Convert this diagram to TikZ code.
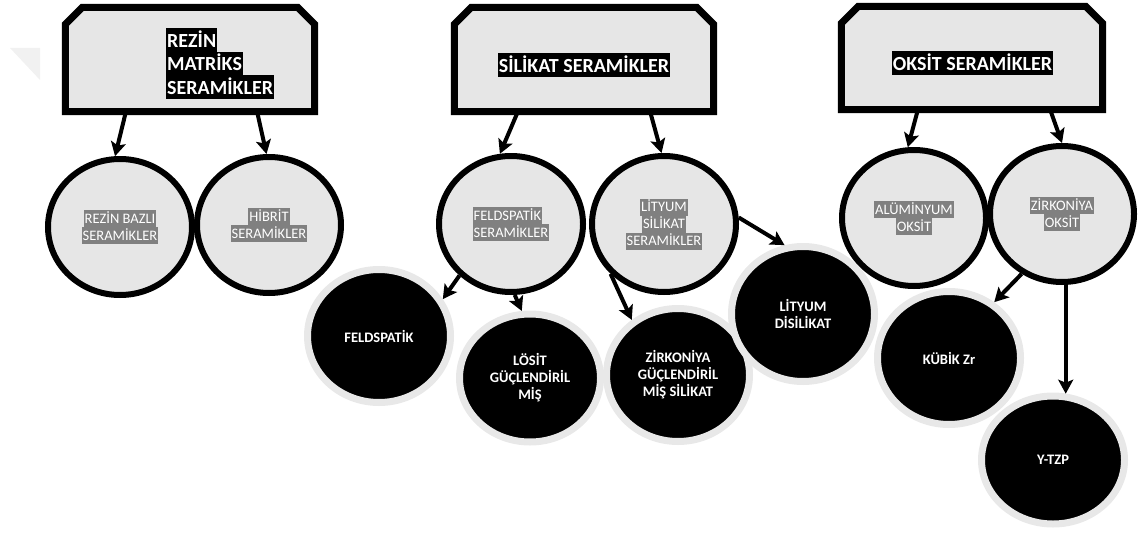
\documentclass[tikz,border=0pt]{standalone}
\usepackage{fontspec}
\setmainfont{Carlito}
\usetikzlibrary{shapes.geometric,arrows.meta,calc}
\definecolor{lightfill}{RGB}{230,230,230}
\definecolor{halo}{RGB}{232,232,232}
\definecolor{hlgray}{RGB}{128,128,128}
\definecolor{ghost}{RGB}{241,241,241}
\newcommand\hk[1]{{\fboxsep=0pt\colorbox{black}{\rule[-4.5pt]{0pt}{23.5pt}\kern1pt#1\kern1pt}}}
\newcommand\hg[1]{{\fboxsep=0pt\colorbox{hlgray}{\rule[-4pt]{0pt}{17pt}\kern1pt#1\kern1pt}}}
\newcommand\stackL[1]{\vbox{\offinterlineskip\halign{##\hfil\cr#1\crcr}}}
\newcommand\stackC[1]{\vbox{\offinterlineskip\halign{\hfil##\hfil\cr#1\crcr}}}
\tikzset{
  hdrbox/.style={rectangle, draw=none, inner sep=0pt},
  hdrline/.style={draw=black, fill=lightfill, line width=7pt, line join=miter},
  hdrtext/.style={inner sep=0pt, text=white, font=\bfseries\fontsize{20}{23.5}\selectfont},
  lightc/.style={ellipse, draw=black, line width=6pt, fill=lightfill, minimum width=144pt, minimum height=136pt, inner sep=0pt, text=white, font=\fontsize{14.5}{17}\selectfont},
  darkc/.style={ellipse, draw=halo, line width=7pt, fill=black, minimum width=143pt, minimum height=133pt, inner sep=0pt, text=white, align=center, font=\bfseries\fontsize{14.5}{17}\selectfont},
  arr/.style={line width=4pt, draw=black, -{Stealth[length=14pt,width=15pt,inset=3pt]}}
}
\begin{document}
\begin{tikzpicture}[x=1pt,y=-1pt]
\useasboundingbox (0,0) rectangle (1142,535);
% faint mark at top left
\fill[ghost] (10,48) -- (40,48) -- (40,80) -- cycle;

% header frames
\node[hdrbox, minimum width=249pt, minimum height=104pt] (h1) at (190,59.5) {};
\node[hdrbox, minimum width=259pt, minimum height=104pt] (h2) at (584,59.5) {};
\node[hdrbox, minimum width=261pt, minimum height=103pt] (h3) at (972,58) {};
\foreach \h in {h1,h2,h3}{
  \draw[hdrline] (\h.south west) -- ($(\h.north west)+(0,17)$) -- ($(\h.north west)+(17,0)$)
    -- ($(\h.north east)+(-17,0)$) -- ($(\h.north east)+(0,17)$) -- (\h.south east) -- cycle;
}
\node[hdrtext, anchor=north west] (t1) at (166,28) {\stackL{\hk{REZİN}\cr\hk{MATRİKS}\cr\hk{SERAMİKLER}}};
\node[hdrtext] (t2) at (584,65) {\hk{SİLİKAT SERAMİKLER}};
\node[hdrtext] (t3) at (972.5,63) {\hk{OKSİT SERAMİKLER}};

% second level
\node[lightc] (rb) at (120,227) {\stackC{\hg{REZİN BAZLI}\cr\hg{SERAMİKLER}}};
\node[lightc] (hb) at (269,225) {\stackC{\hg{HİBRİT}\cr\hg{SERAMİKLER}}};
\node[lightc] (fs) at (511,224) {\stackL{\hg{FELDSPATİK}\cr\hg{SERAMİKLER}}};
\node[lightc] (ls) at (664,224) {\stackC{\hg{LİTYUM}\cr\hg{SİLİKAT}\cr\hg{SERAMİKLER}}};
\node[lightc] (ao) at (914,218) {\stackC{\hg{ALÜMİNYUM}\cr\hg{OKSİT}}};
\node[lightc] (zo) at (1062,214) {\stackC{\hg{ZİRKONİYA}\cr\hg{OKSİT}}};

% third level
\node[darkc] (fp) at (379,336) {FELDSPATİK};
\node[darkc, minimum width=141pt, minimum height=128pt] (lo) at (530,378) {LÖSİT\\GÜÇLENDİRİL\\MİŞ};
\node[darkc] (zg) at (678,375) {ZİRKONİYA\\GÜÇLENDİRİL\\MİŞ SİLİKAT};
\node[darkc, minimum height=135pt] (ld) at (803,314) {LİTYUM\\DİSİLİKAT};
\node[darkc] (kz) at (949,358) {KÜBİK Zr};
\node[darkc, minimum width=143pt, minimum height=128pt] (yt) at (1053,460) {Y-TZP};

% connectors
\draw[arr] ($(h1.south west)!0.243!(h1.south east)$) -- (rb.94);
\draw[arr] ($(h1.south west)!0.769!(h1.south east)$) -- (hb.92);
\draw[arr] ($(h2.south west)!0.245!(h2.south east)$) -- (fs.99);
\draw[arr] ($(h2.south west)!0.755!(h2.south east)$) -- (ls.92);
\draw[arr] ($(h3.south west)!0.293!(h3.south east)$) -- (ao.95);
\draw[arr] ($(h3.south west)!0.799!(h3.south east)$) -- (zo.90);
\draw[arr] (fs.225) -- (fp.30);
\draw[arr] (fs.273) -- (lo.97);
\draw[arr] (ls.223) -- (zg.130);
\draw[arr] (ls.5) -- (ld.105);
\draw[arr] (zo.236) -- (kz.51);
\draw[arr] (zo.273) -- (zo.273 |- yt.78);
\end{tikzpicture}
\end{document}
